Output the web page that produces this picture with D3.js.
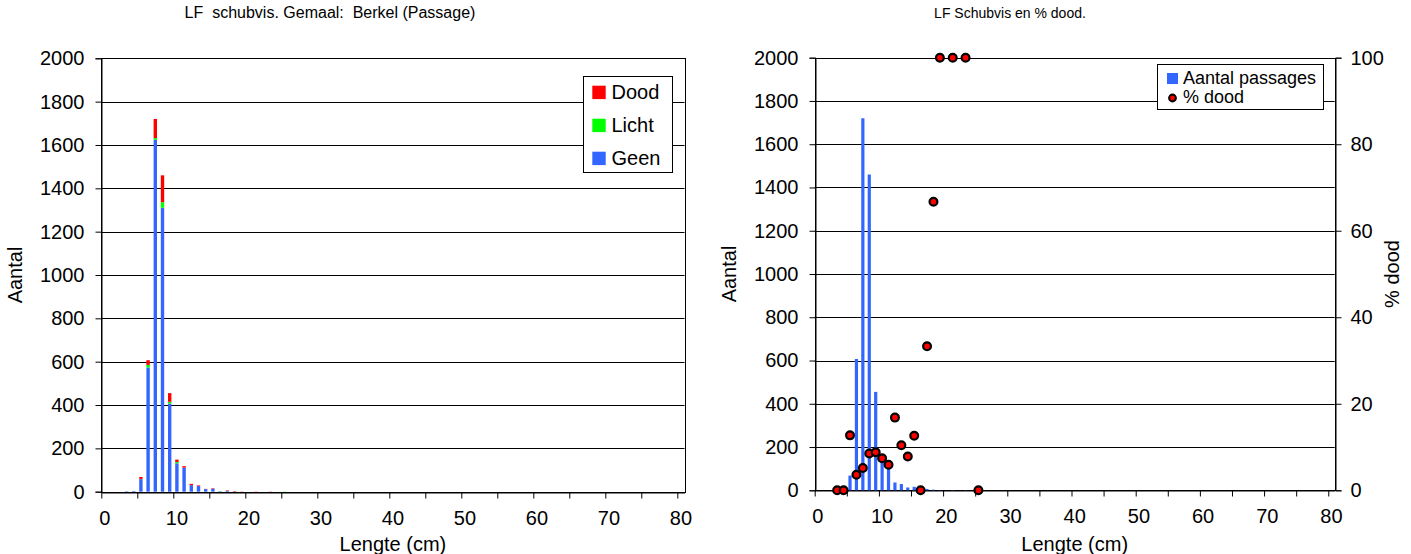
<!DOCTYPE html>
<html><head><meta charset="utf-8">
<script src="https://cdn.jsdelivr.net/npm/d3@7"></script>
<style>
body{margin:0;background:#fff;}
svg{display:block;font-family:"Liberation Sans",Arial,sans-serif;}
text{white-space:pre;}
</style></head>
<body>
<svg id="c" width="1411" height="554"></svg>
<script>
// ---- data ----
const lengte   = [3,4,5,6,7,8,9,10,11,12,13,14,15,16,17,18,19,21,23,25];
const geen     = [2,3,58,573,1624,1310,407,131,111,30,26,12,14,2,4,1,0,0,0,0];
const licht    = [0,0,1,12,8,26,8,6,0,0,0,0,0,1,0,0,0,0,0,1];
const dood     = [0,0,9,22,88,124,40,11,7,6,3,1,2,0,2,2,1,1,1,0];
const pctDood  = [0,0,12.7,3.6,5.15,8.5,8.8,7.4,5.9,16.8,10.4,7.8,12.6,0,33.3,66.7,100,100,100,0];
const categories = d3.range(0,81);
const yTicks = [0,200,400,600,800,1000,1200,1400,1600,1800,2000];
const pctTicks = [0,20,40,60,80,100];
const xLabels = [0,10,20,30,40,50,60,70,80];
const seriesNames = ["Dood","Licht","Geen"];
const colors = {Geen:"#3366FF", Licht:"#00FF00", Dood:"#FF0000"};

const svg = d3.select("#c");
const FS = 20;

function drawPanel(o){
  const g = svg.append("g");
  const x = d3.scaleBand().domain(categories).range([o.left,o.right]);
  const xl = d3.scaleLinear().domain([0,81]).range([o.left,o.right]);
  const y = d3.scaleLinear().domain([0,2000]).range([o.bottom,o.top]);
  // gridlines
  g.append("g").selectAll("line").data(yTicks).join("line")
    .attr("x1",o.left).attr("x2",o.right)
    .attr("y1",d=>Math.round(y(d))+0.5).attr("y2",d=>Math.round(y(d))+0.5)
    .attr("stroke","#000").attr("stroke-width",1);
  // border
  g.append("rect").attr("x",Math.round(o.left)+0.5).attr("y",Math.round(o.top)+0.5)
    .attr("width",Math.round(o.right)-Math.round(o.left)).attr("height",Math.round(o.bottom)-Math.round(o.top))
    .attr("fill","none").attr("stroke","#000");
  // y axis
  const ya = g.append("g").attr("transform",`translate(${Math.round(o.left)+0.5},0)`)
    .call(d3.axisLeft(y).tickValues(yTicks).tickSize(6).tickPadding(11).tickFormat(d3.format("d")));
  ya.select(".domain").attr("stroke","#000");
  ya.selectAll("text").attr("font-size",FS).attr("font-family","Liberation Sans, Arial").attr("fill","#000");
  // x tick marks
  const xt = g.append("g").attr("transform",`translate(0,${Math.round(o.bottom)+0.5})`)
    .call(d3.axisBottom(xl).tickValues(d3.range(0,81,5)).tickSize(6).tickFormat(""));
  xt.select(".domain").remove();
  // x labels
  const xa = g.append("g").attr("transform",`translate(0,${Math.round(o.bottom)+0.5})`)
    .call(d3.axisBottom(x).tickValues(xLabels).tickSize(0).tickPadding(18));
  xa.select(".domain").attr("stroke","#000");
  xa.selectAll("text").attr("font-size",FS).attr("font-family","Liberation Sans, Arial").attr("fill","#000");
  // titles
  g.append("text").attr("x",o.titleX).attr("y",18).attr("text-anchor","middle")
    .attr("font-size",o.titleSize).attr("xml:space","preserve").text(o.title);
  g.append("text").attr("x",(o.left+o.right)/2).attr("y",551).attr("text-anchor","middle")
    .attr("font-size",FS).text("Lengte (cm)");
  g.append("text").attr("transform",`translate(${o.left-79},${(o.top+o.bottom)/2}) rotate(-90)`)
    .attr("text-anchor","middle").attr("font-size",FS).text("Aantal");
  return {g,x,y};
}

// ---- left chart: stacked ----
const L = drawPanel({left:101.3,right:684.5,top:58.3,bottom:491.7,titleX:330,titleSize:16,
  title:"LF  schubvis. Gemaal:  Berkel (Passage)"});
const rows = lengte.map((l,i)=>({l,Geen:geen[i],Licht:licht[i],Dood:dood[i]}));
const stack = d3.stack().keys(["Geen","Licht","Dood"])(rows);
const bwL = 3.4;
L.g.append("g").selectAll("g").data(stack).join("g").attr("fill",s=>colors[s.key])
  .selectAll("rect").data(s=>s.filter(d=>d[1]-d[0]>0)).join("rect")
  .attr("x",d=>L.x(d.data.l)+L.x.bandwidth()/2-bwL/2)
  .attr("width",bwL)
  .attr("y",d=>L.y(d[1]))
  .attr("height",d=>L.y(d[0])-L.y(d[1]));

// left legend
const lg = L.g.append("g");
lg.append("rect").attr("x",583.5).attr("y",76.5).attr("width",89).attr("height",96)
  .attr("fill","#fff").attr("stroke","#000");
seriesNames.forEach((n,i)=>{
  const yy = 85.7 + i*33;
  lg.append("rect").attr("x",592.3).attr("y",yy).attr("width",13.4).attr("height",13.4).attr("fill",colors[n]);
  lg.append("text").attr("x",611.5).attr("y",yy+13.4).attr("font-size",FS).text(n);
});

// ---- right chart: bars + % dood ----
const R = drawPanel({left:814.7,right:1334.7,top:57.7,bottom:490.3,titleX:1010,titleSize:14,
  title:"LF Schubvis en % dood."});
const totals = lengte.map((l,i)=>({l,v:geen[i]+licht[i]+dood[i]}));
const bwR = 3.2;
R.g.append("g").selectAll("rect").data(totals).join("rect")
  .attr("fill",colors.Geen)
  .attr("x",d=>R.x(d.l)+R.x.bandwidth()/2-bwR/2).attr("width",bwR)
  .attr("y",d=>R.y(d.v)).attr("height",d=>R.y(0)-R.y(d.v));
const yp = d3.scaleLinear().domain([0,100]).range([490.3,57.7]);
const ra = R.g.append("g").attr("transform",`translate(${Math.round(1334.7)+0.5},0)`)
  .call(d3.axisRight(yp).tickValues(pctTicks).tickSize(6).tickPadding(9));
ra.select(".domain").attr("stroke","#000");
ra.selectAll("text").attr("font-size",FS).attr("font-family","Liberation Sans, Arial").attr("fill","#000");
R.g.append("text").attr("transform",`translate(1399,274) rotate(-90)`)
  .attr("text-anchor","middle").attr("font-size",FS).text("% dood");
R.g.append("g").selectAll("circle").data(lengte.map((l,i)=>({l,p:pctDood[i]}))).join("circle")
  .attr("cx",d=>R.x(d.l)+R.x.bandwidth()/2).attr("cy",d=>yp(d.p)).attr("r",3.9)
  .attr("fill","#FF0000").attr("stroke","#000").attr("stroke-width",2.2);

// right legend
const rg = R.g.append("g");
rg.append("rect").attr("x",1157.5).attr("y",64.5).attr("width",166).attr("height",45)
  .attr("fill","#fff").attr("stroke","#000");
rg.append("rect").attr("x",1167).attr("y",73).attr("width",11).attr("height",11).attr("fill",colors.Geen);
rg.append("text").attr("x",1183).attr("y",84).attr("font-size",18).text("Aantal passages");
rg.append("circle").attr("cx",1172.5).attr("cy",98).attr("r",3.4)
  .attr("fill","#FF0000").attr("stroke","#000").attr("stroke-width",2);
rg.append("text").attr("x",1183).attr("y",103).attr("font-size",18).text("% dood");
</script>
</body></html>
